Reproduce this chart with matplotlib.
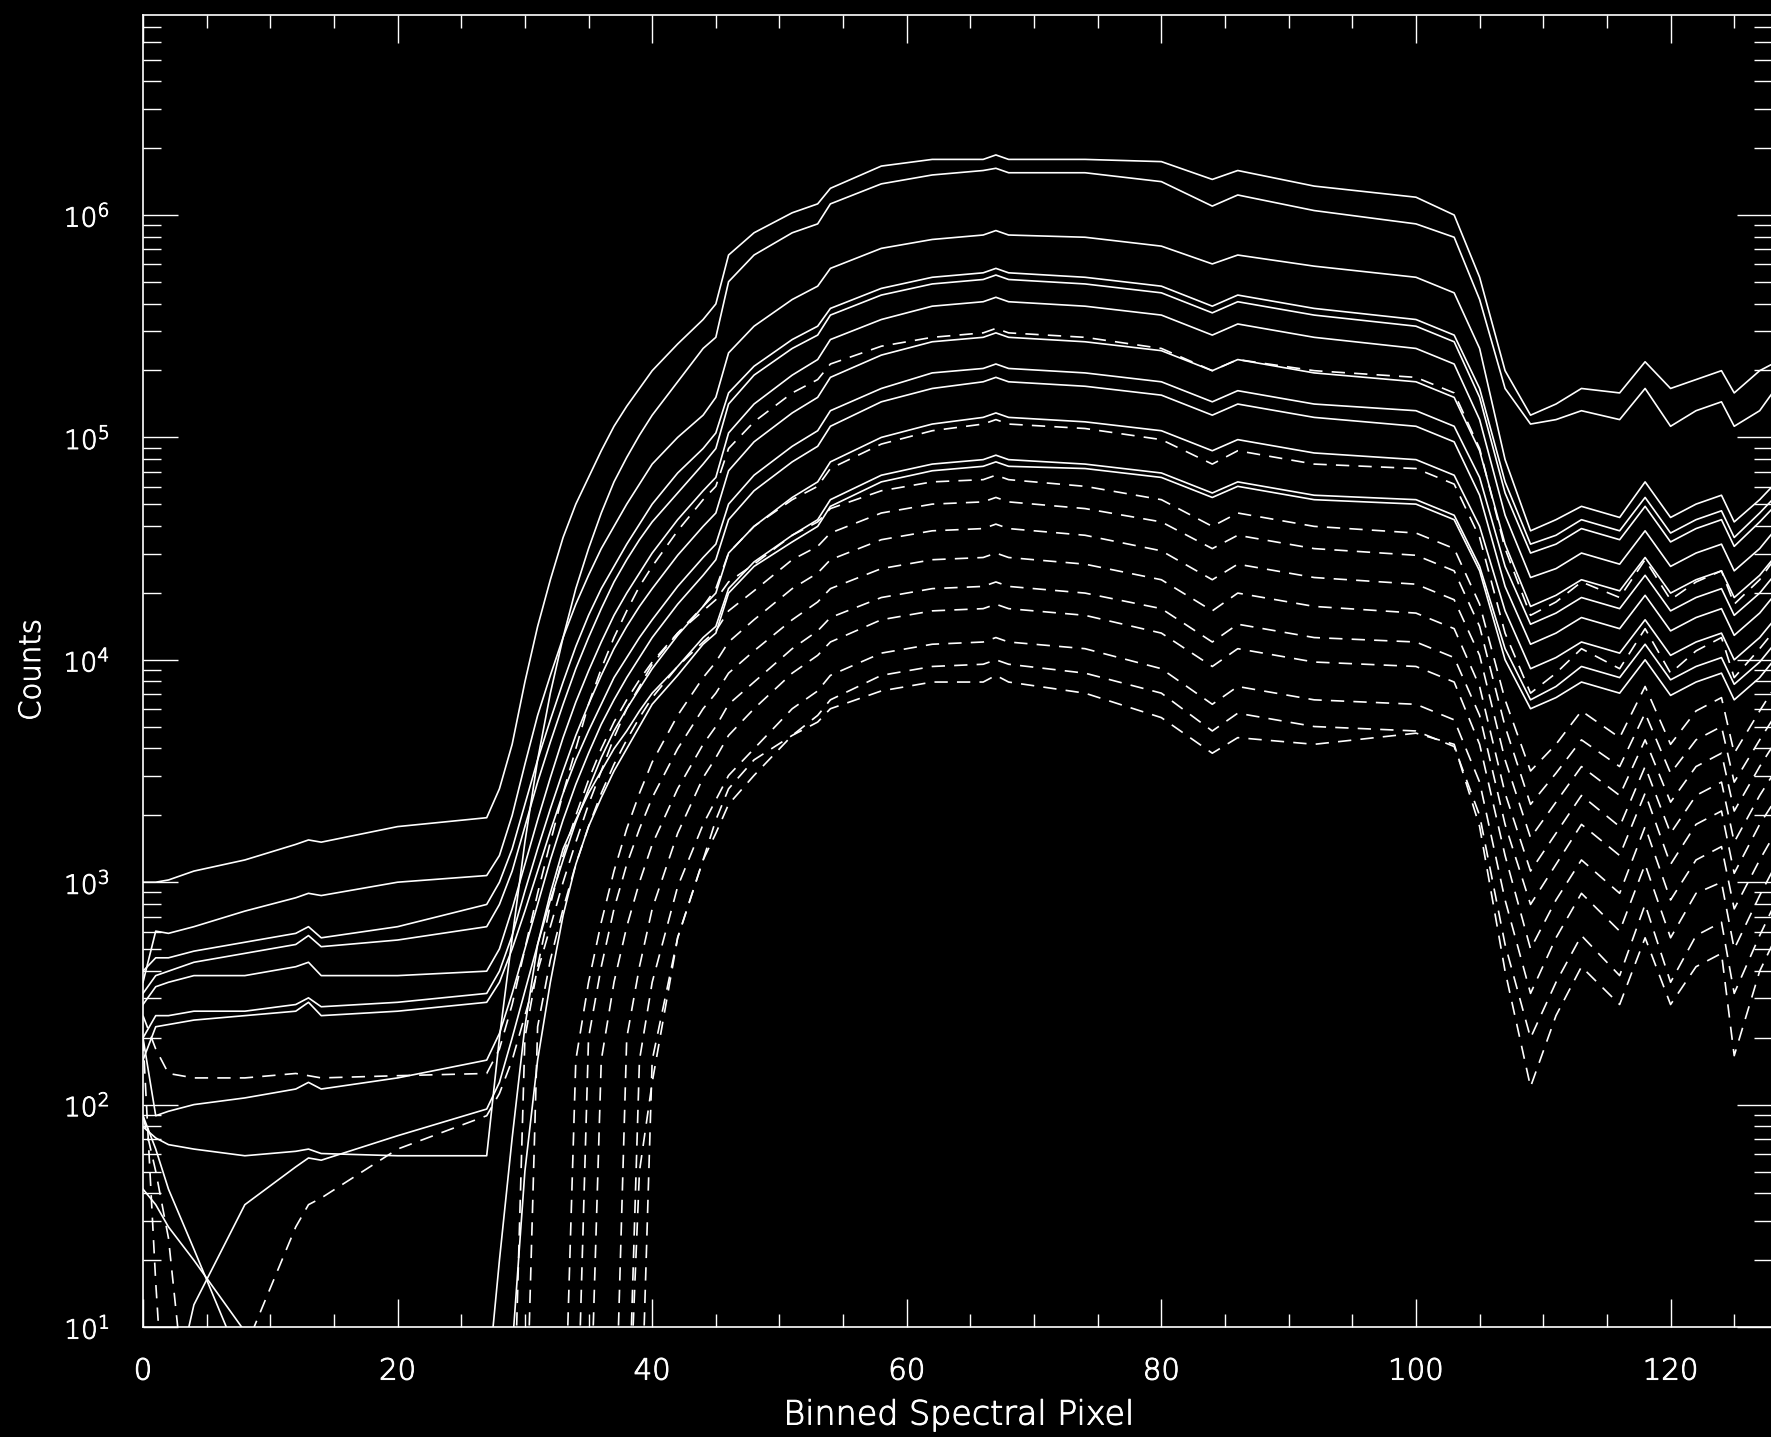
import numpy as np
import matplotlib
matplotlib.use("Agg")
import matplotlib.pyplot as plt
import matplotlib.patheffects as pe
from matplotlib.ticker import MultipleLocator, LogLocator

# binned spectral pixel at which each spectrum is sampled
pixel = [0, 1, 2, 4, 8, 12, 13, 14, 20, 27,
         28, 29, 30, 31, 32, 33, 34, 35, 36, 37,
         38, 39, 40, 42, 44, 45, 46, 48, 51, 53,
         54, 58, 62, 66, 67, 68, 74, 80, 84, 86,
         92, 100, 103, 105, 107, 109, 111, 113, 116, 118,
         120, 122, 124, 125, 127, 128]

# log10(counts), solid spectra
s1 = [3.00, 3.00, 3.01, 3.05, 3.10, 3.17, 3.19, 3.18, 3.25, 3.29,
      3.42, 3.62, 3.90, 4.15, 4.36, 4.55, 4.70, 4.82, 4.94, 5.05,
      5.14, 5.22, 5.30, 5.42, 5.53, 5.60, 5.82, 5.92, 6.01, 6.05,
      6.12, 6.22, 6.25, 6.25, 6.27, 6.25, 6.25, 6.24, 6.16, 6.20,
      6.13, 6.08, 6.00, 5.72, 5.30, 5.10, 5.15, 5.22, 5.20, 5.34,
      5.22, 5.26, 5.30, 5.20, 5.30, 5.33]
s2 = [1.90, 1.85, 1.82, 1.80, 1.77, 1.79, 1.80, 1.78, 1.77, 1.77,
      2.30, 2.75, 3.18, 3.55, 3.85, 4.10, 4.32, 4.50, 4.66, 4.80,
      4.91, 5.01, 5.10, 5.25, 5.40, 5.45, 5.70, 5.82, 5.92, 5.96,
      6.05, 6.14, 6.18, 6.20, 6.21, 6.19, 6.19, 6.15, 6.04, 6.09,
      6.02, 5.96, 5.90, 5.62, 5.22, 5.06, 5.08, 5.12, 5.08, 5.22,
      5.05, 5.12, 5.16, 5.05, 5.12, 5.20]
s3 = [2.55, 2.78, 2.77, 2.80, 2.87, 2.93, 2.95, 2.94, 3.00, 3.03,
      3.12, 3.30, 3.53, 3.75, 3.93, 4.10, 4.25, 4.38, 4.50, 4.60,
      4.70, 4.79, 4.88, 5.00, 5.10, 5.18, 5.38, 5.50, 5.62, 5.68,
      5.76, 5.85, 5.89, 5.91, 5.93, 5.91, 5.90, 5.86, 5.78, 5.82,
      5.77, 5.72, 5.65, 5.40, 4.90, 4.58, 4.63, 4.69, 4.64, 4.80,
      4.64, 4.70, 4.74, 4.62, 4.72, 4.78]
s4 = [2.60, 2.66, 2.66, 2.69, 2.73, 2.77, 2.80, 2.75, 2.80, 2.90,
      3.00, 3.15, 3.35, 3.55, 3.73, 3.90, 4.06, 4.20, 4.32, 4.42,
      4.52, 4.61, 4.70, 4.84, 4.95, 5.02, 5.20, 5.32, 5.44, 5.50,
      5.58, 5.67, 5.72, 5.74, 5.76, 5.74, 5.72, 5.68, 5.59, 5.64,
      5.58, 5.53, 5.46, 5.22, 4.80, 4.52, 4.56, 4.63, 4.58, 4.73,
      4.57, 4.63, 4.67, 4.55, 4.66, 4.72]
s5 = [2.50, 2.58, 2.60, 2.64, 2.68, 2.72, 2.76, 2.71, 2.74, 2.80,
      2.90, 3.05, 3.25, 3.45, 3.63, 3.80, 3.96, 4.10, 4.23, 4.35,
      4.45, 4.54, 4.62, 4.75, 4.88, 4.95, 5.15, 5.28, 5.40, 5.46,
      5.55, 5.64, 5.69, 5.71, 5.73, 5.71, 5.69, 5.65, 5.56, 5.61,
      5.55, 5.50, 5.43, 5.18, 4.75, 4.48, 4.52, 4.59, 4.54, 4.69,
      4.53, 4.59, 4.63, 4.51, 4.62, 4.68]
s6 = [2.45, 2.53, 2.55, 2.58, 2.58, 2.62, 2.64, 2.58, 2.58, 2.60,
      2.70, 2.88, 3.08, 3.28, 3.47, 3.65, 3.81, 3.95, 4.08, 4.20,
      4.30, 4.39, 4.48, 4.63, 4.76, 4.82, 5.02, 5.15, 5.28, 5.35,
      5.44, 5.53, 5.59, 5.61, 5.63, 5.61, 5.59, 5.55, 5.46, 5.51,
      5.45, 5.40, 5.33, 5.08, 4.65, 4.37, 4.41, 4.48, 4.43, 4.58,
      4.42, 4.48, 4.52, 4.40, 4.50, 4.57]
s7 = [2.30, 2.40, 2.40, 2.42, 2.42, 2.45, 2.48, 2.44, 2.46, 2.50,
      2.60, 2.76, 2.96, 3.15, 3.33, 3.50, 3.66, 3.80, 3.93, 4.05,
      4.15, 4.24, 4.32, 4.47, 4.60, 4.66, 4.85, 4.98, 5.11, 5.18,
      5.27, 5.37, 5.43, 5.45, 5.47, 5.45, 5.43, 5.39, 5.30, 5.35,
      5.29, 5.25, 5.18, 4.94, 4.52, 4.24, 4.29, 4.36, 4.31, 4.46,
      4.30, 4.36, 4.40, 4.28, 4.38, 4.45]
s8 = [2.20, 2.35, 2.36, 2.38, 2.40, 2.42, 2.46, 2.40, 2.42, 2.46,
      2.55, 2.70, 2.87, 3.05, 3.23, 3.40, 3.55, 3.68, 3.80, 3.92,
      4.01, 4.10, 4.18, 4.33, 4.46, 4.52, 4.70, 4.83, 4.96, 5.03,
      5.12, 5.22, 5.29, 5.31, 5.33, 5.31, 5.29, 5.25, 5.16, 5.21,
      5.15, 5.12, 5.05, 4.82, 4.42, 4.16, 4.21, 4.28, 4.23, 4.38,
      4.22, 4.28, 4.32, 4.20, 4.30, 4.37]
s9 = [2.30, 1.95, 1.97, 2.00, 2.03, 2.07, 2.10, 2.07, 2.12, 2.20,
      2.32, 2.50, 2.70, 2.90, 3.10, 3.28, 3.44, 3.58, 3.71, 3.82,
      3.92, 4.01, 4.10, 4.25, 4.38, 4.45, 4.63, 4.76, 4.89, 4.96,
      5.05, 5.16, 5.22, 5.25, 5.27, 5.25, 5.23, 5.19, 5.10, 5.15,
      5.09, 5.05, 4.98, 4.74, 4.33, 4.07, 4.12, 4.19, 4.14, 4.29,
      4.13, 4.19, 4.23, 4.11, 4.21, 4.28]
s10 = [0.50, 0.50, 0.60, 1.10, 1.55, 1.72, 1.76, 1.75, 1.86, 1.98,
       2.10, 2.30, 2.51, 2.72, 2.92, 3.10, 3.27, 3.42, 3.56, 3.68,
       3.78, 3.87, 3.96, 4.11, 4.24, 4.30, 4.48, 4.60, 4.73, 4.80,
       4.89, 5.00, 5.06, 5.09, 5.11, 5.09, 5.07, 5.03, 4.94, 4.99,
       4.93, 4.90, 4.83, 4.60, 4.22, 3.96, 4.01, 4.08, 4.03, 4.18,
       4.02, 4.08, 4.12, 4.00, 4.10, 4.17]
s11 = [1.95, 1.80, 1.62, 1.35, 0.80, 0.50, 0.50, 0.50, 0.50, 0.70,
       1.30, 1.85, 2.35, 2.72, 2.95, 3.15, 3.28, 3.40, 3.50, 3.60,
       3.68, 3.77, 3.85, 3.97, 4.10, 4.15, 4.32, 4.44, 4.56, 4.63,
       4.72, 4.83, 4.88, 4.90, 4.92, 4.90, 4.88, 4.84, 4.75, 4.80,
       4.74, 4.72, 4.65, 4.42, 4.05, 3.82, 3.88, 3.97, 3.92, 4.07,
       3.91, 3.97, 4.01, 3.89, 3.99, 4.06]
s12 = [1.62, 1.55, 1.45, 1.30, 0.98, 0.50, 0.50, 0.50, 0.50, 0.50,
       0.50, 0.90, 1.70, 2.20, 2.55, 2.85, 3.08, 3.25, 3.38, 3.50,
       3.60, 3.70, 3.80, 3.93, 4.07, 4.12, 4.30, 4.42, 4.53, 4.60,
       4.69, 4.80, 4.85, 4.87, 4.89, 4.87, 4.86, 4.82, 4.73, 4.78,
       4.72, 4.70, 4.63, 4.40, 4.00, 3.78, 3.83, 3.90, 3.85, 4.00,
       3.84, 3.90, 3.94, 3.82, 3.92, 3.99]

# log10(counts), dashed spectra
d1 = [2.40, 2.25, 2.14, 2.12, 2.12, 2.14, 2.13, 2.12, 2.13, 2.14,
      2.25, 2.45, 2.70, 2.95, 3.18, 3.40, 3.60, 3.80, 3.96, 4.10,
      4.22, 4.33, 4.42, 4.58, 4.72, 4.78, 4.95, 5.07, 5.20, 5.26,
      5.33, 5.41, 5.45, 5.47, 5.49, 5.47, 5.45, 5.40, 5.30, 5.35,
      5.30, 5.27, 5.20, 4.95, 4.50, 4.20, 4.26, 4.35, 4.28, 4.45,
      4.27, 4.35, 4.40, 4.25, 4.36, 4.44]
d2 = [0.30, 0.30, 0.30, 0.30, 0.90, 1.45, 1.55, 1.58, 1.80, 1.95,
      2.05, 2.20, 2.40, 2.60, 2.80, 3.00, 3.18, 3.35, 3.50, 3.65,
      3.78, 3.88, 3.98, 4.12, 4.24, 4.32, 4.48, 4.60, 4.72, 4.78,
      4.86, 4.97, 5.03, 5.06, 5.08, 5.06, 5.04, 4.99, 4.88, 4.94,
      4.88, 4.86, 4.79, 4.55, 4.12, 3.85, 3.94, 4.05, 3.96, 4.14,
      3.94, 4.04, 4.10, 3.92, 4.05, 4.12]
d3 = [2.30, 1.20, 0.30, 0.30, 0.30, 0.30, 0.30, 0.30, 0.30, 0.30,
      0.30, 0.30, 2.30, 2.62, 2.90, 3.12, 3.30, 3.46, 3.60, 3.72,
      3.82, 3.91, 3.99, 4.12, 4.22, 4.27, 4.35, 4.43, 4.56, 4.62,
      4.68, 4.76, 4.80, 4.81, 4.83, 4.81, 4.78, 4.72, 4.60, 4.66,
      4.60, 4.57, 4.50, 4.25, 3.82, 3.50, 3.62, 3.77, 3.65, 3.88,
      3.62, 3.77, 3.83, 3.58, 3.77, 3.86]
d4 = [1.95, 1.70, 1.40, 0.30, 0.30, 0.30, 0.30, 0.30, 0.30, 0.30,
      0.30, 0.30, 0.30, 2.35, 2.65, 2.88, 3.08, 3.25, 3.40, 3.53,
      3.64, 3.74, 3.83, 3.97, 4.08, 4.13, 4.22, 4.31, 4.45, 4.51,
      4.57, 4.66, 4.70, 4.71, 4.73, 4.71, 4.68, 4.62, 4.50, 4.56,
      4.50, 4.47, 4.40, 4.15, 3.70, 3.35, 3.49, 3.64, 3.52, 3.76,
      3.49, 3.64, 3.70, 3.45, 3.64, 3.73]
d5 = [0.30, 0.30, 0.30, 0.30, 0.30, 0.30, 0.30, 0.30, 0.30, 0.30,
      0.30, 0.30, 0.30, 0.30, 0.30, 0.30, 2.20, 2.55, 2.82, 3.05,
      3.24, 3.40, 3.54, 3.75, 3.92, 3.99, 4.08, 4.18, 4.32, 4.39,
      4.45, 4.54, 4.58, 4.59, 4.61, 4.59, 4.56, 4.49, 4.36, 4.43,
      4.37, 4.34, 4.27, 4.02, 3.55, 3.20, 3.36, 3.52, 3.39, 3.64,
      3.36, 3.52, 3.58, 3.32, 3.52, 3.61]
d6 = [0.30, 0.30, 0.30, 0.30, 0.30, 0.30, 0.30, 0.30, 0.30, 0.30,
      0.30, 0.30, 0.30, 0.30, 0.30, 0.30, 0.30, 2.30, 2.62, 2.88,
      3.08, 3.24, 3.38, 3.60, 3.78, 3.85, 3.94, 4.04, 4.18, 4.26,
      4.32, 4.41, 4.45, 4.46, 4.48, 4.46, 4.43, 4.36, 4.22, 4.30,
      4.24, 4.21, 4.14, 3.88, 3.40, 3.05, 3.22, 3.39, 3.25, 3.52,
      3.22, 3.39, 3.45, 3.18, 3.39, 3.48]
d7 = [0.30, 0.30, 0.30, 0.30, 0.30, 0.30, 0.30, 0.30, 0.30, 0.30,
      0.30, 0.30, 0.30, 0.30, 0.30, 0.30, 0.30, 0.30, 2.20, 2.55,
      2.80, 3.00, 3.17, 3.42, 3.62, 3.70, 3.80, 3.90, 4.05, 4.13,
      4.19, 4.28, 4.32, 4.33, 4.35, 4.33, 4.30, 4.23, 4.08, 4.16,
      4.10, 4.08, 4.01, 3.75, 3.26, 2.90, 3.08, 3.26, 3.12, 3.40,
      3.08, 3.26, 3.32, 3.04, 3.26, 3.35]
d8 = [0.30, 0.30, 0.30, 0.30, 0.30, 0.30, 0.30, 0.30, 0.30, 0.30,
      0.30, 0.30, 0.30, 0.30, 0.30, 0.30, 0.30, 0.30, 0.30, 0.30,
      2.30, 2.62, 2.88, 3.22, 3.47, 3.56, 3.66, 3.78, 3.94, 4.02,
      4.08, 4.18, 4.22, 4.23, 4.25, 4.23, 4.20, 4.12, 3.97, 4.05,
      3.99, 3.97, 3.90, 3.62, 3.12, 2.70, 2.92, 3.10, 2.95, 3.25,
      2.92, 3.10, 3.16, 2.88, 3.10, 3.20]
d9 = [0.30, 0.30, 0.30, 0.30, 0.30, 0.30, 0.30, 0.30, 0.30, 0.30,
      0.30, 0.30, 0.30, 0.30, 0.30, 0.30, 0.30, 0.30, 0.30, 0.30,
      0.30, 2.20, 2.55, 2.98, 3.26, 3.37, 3.48, 3.60, 3.78, 3.86,
      3.93, 4.03, 4.07, 4.08, 4.10, 4.08, 4.05, 3.96, 3.80, 3.88,
      3.82, 3.80, 3.73, 3.45, 2.92, 2.50, 2.75, 2.95, 2.78, 3.08,
      2.75, 2.95, 3.00, 2.70, 2.94, 3.05]
d10 = [0.30, 0.30, 0.30, 0.30, 0.30, 0.30, 0.30, 0.30, 0.30, 0.30,
       0.30, 0.30, 0.30, 0.30, 0.30, 0.30, 0.30, 0.30, 0.30, 0.30,
       0.30, 0.30, 2.20, 2.75, 3.10, 3.22, 3.35, 3.48, 3.66, 3.75,
       3.82, 3.93, 3.97, 3.98, 4.00, 3.98, 3.94, 3.85, 3.68, 3.76,
       3.70, 3.68, 3.61, 3.30, 2.72, 2.30, 2.55, 2.76, 2.58, 2.90,
       2.55, 2.76, 2.82, 2.50, 2.76, 2.88]
d11 = [0.30, 0.30, 0.30, 0.30, 0.30, 0.30, 0.30, 0.30, 0.30, 0.30,
       0.30, 0.30, 0.30, 0.30, 0.30, 0.30, 0.30, 0.30, 0.30, 0.30,
       0.30, 1.70, 2.10, 2.75, 3.10, 3.28, 3.42, 3.55, 3.66, 3.72,
       3.78, 3.86, 3.90, 3.90, 3.93, 3.90, 3.85, 3.74, 3.58, 3.65,
       3.62, 3.67, 3.62, 3.25, 2.60, 2.08, 2.40, 2.62, 2.45, 2.75,
       2.45, 2.62, 2.68, 2.22, 2.60, 2.72]

solid = [s1, s2, s3, s4, s5, s6, s7, s8, s9, s10, s11, s12]
dashed = [d1, d2, d3, d4, d5, d6, d7, d8, d9, d10, d11]

plt.rcParams["font.family"] = ["DejaVu Sans"]
plt.rcParams["font.weight"] = "light"
plt.rcParams["mathtext.fontset"] = "custom"
plt.rcParams["mathtext.rm"] = "DejaVu Sans:light"
plt.rcParams["mathtext.it"] = "DejaVu Sans:light"

# thin strokes drawn a touch heavier so the labels read as solid white
crisp = [pe.withStroke(linewidth=0.7, foreground="white")]

W, H = 1771, 1437
fig = plt.figure(figsize=(W / 100, H / 100), dpi=100, facecolor="black")
ax = fig.add_axes([143 / W, 1 - 1327 / H, (1772.4 - 143) / W, (1327 - 15) / H])
ax.set_facecolor("black")

for lc in solid:
    ax.plot(pixel, 10.0 ** np.array(lc), color="white", lw=1.2)
for lc in dashed:
    ax.plot(pixel, 10.0 ** np.array(lc), color="white", lw=1.2,
            linestyle=(0, (8, 5.5)))

ax.set_yscale("log")
ax.set_xlim(0, 128)
ax.set_ylim(10, 7.93e6)

ax.xaxis.set_major_locator(MultipleLocator(20))
ax.xaxis.set_minor_locator(MultipleLocator(5))
ax.yaxis.set_major_locator(LogLocator(base=10))
ax.yaxis.set_minor_locator(LogLocator(base=10, subs=np.arange(2, 10)))

for s in ax.spines.values():
    s.set_color("white")
    s.set_linewidth(1.2)

ax.tick_params(axis="both", which="both", direction="in", colors="white",
               top=True, right=True, width=1.0)
ax.tick_params(axis="x", which="major", length=20, pad=22, labelsize=21)
ax.tick_params(axis="x", which="minor", length=9.5)
ax.tick_params(axis="y", which="major", length=25, pad=24, labelsize=19)
ax.tick_params(axis="y", which="minor", length=13)

fig.canvas.draw()
for lab in ax.get_xticklabels() + ax.get_yticklabels():
    lab.set_path_effects(crisp)

fig.text(959 / W, 1 - 1415 / H, "Binned Spectral Pixel", color="white",
         fontsize=24, ha="center", va="center", path_effects=crisp)
fig.text(32 / W, 1 - 670 / H, "Counts", color="white", fontsize=21,
         rotation=90, ha="center", va="center", path_effects=crisp)

fig.savefig("out.png", dpi=100, facecolor="black")
